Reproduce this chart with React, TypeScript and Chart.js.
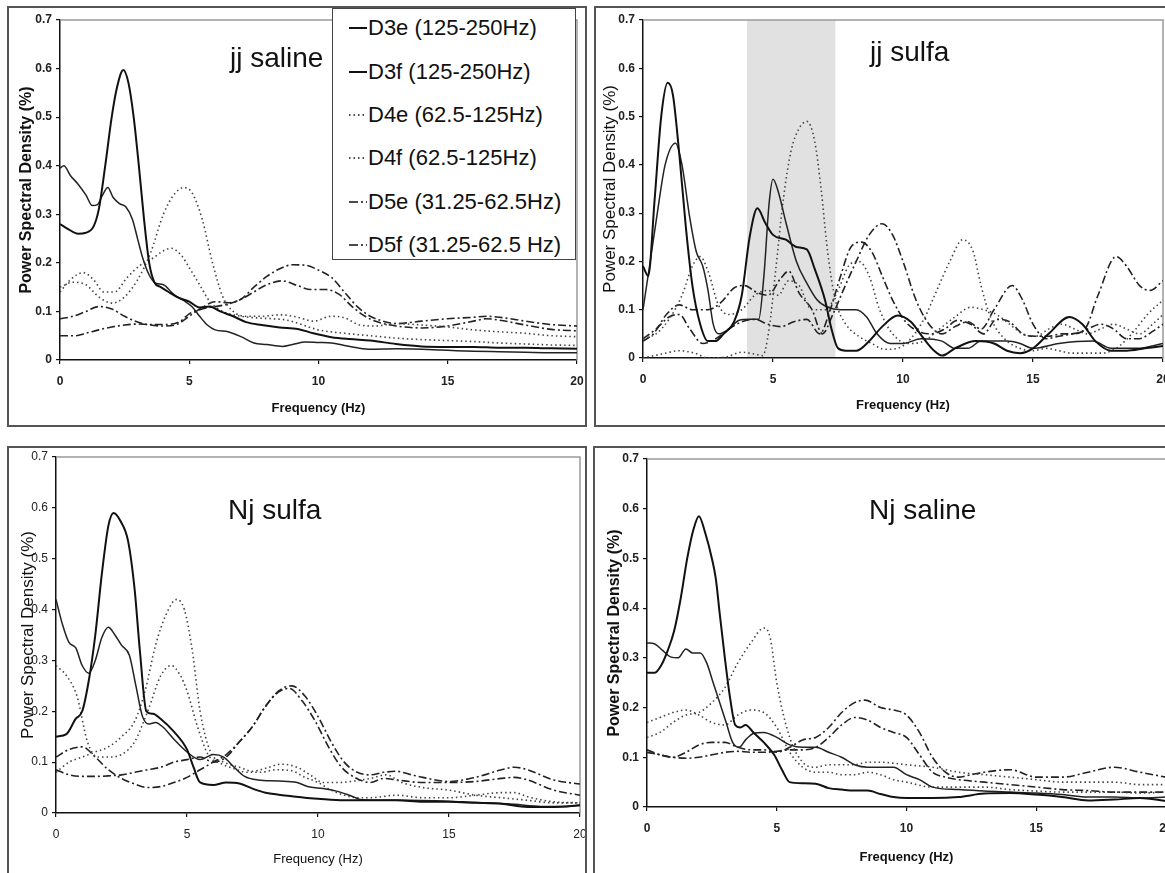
import React, { useEffect, useRef } from "react";
import { Chart, registerables } from "chart.js";
Chart.register(...registerables);

// ---------- labels ----------
const seriesLabels = [
  "D3e (125-250Hz)",
  "D3f (125-250Hz)",
  "D4e (62.5-125Hz)",
  "D4f (62.5-125Hz)",
  "D5e (31.25-62.5Hz)",
  "D5f (31.25-62.5 Hz)",
];
const panelTitles = ["jj saline", "jj sulfa", "Nj sulfa", "Nj saline"];
const xTickValues = [0, 5, 10, 15, 20];
const xTickLabels = ["0", "5", "10", "15", "20"];
const yTickValues = [0, 0.1, 0.2, 0.3, 0.4, 0.5, 0.6, 0.7];
const yTickLabels = ["0", "0.1", "0.2", "0.3", "0.4", "0.5", "0.6", "0.7"];
const xAxisTitle = "Frequency (Hz)";
const yAxisTitle = "Power Spectral Density (%)";
const jjSulfaShade = [4, 7.4];

type P = [number, number][];

// ---------- jj saline ----------
const jjSalineD3e: P = [[0,0.28],[0.3,0.27],[0.7,0.26],[1.0,0.262],[1.3,0.275],[1.5,0.31],[1.75,0.40],[2.0,0.50],[2.2,0.56],[2.45,0.597],[2.65,0.57],[2.85,0.50],[3.05,0.40],[3.25,0.29],[3.45,0.20],[3.65,0.16],[3.9,0.15],[4.2,0.14],[4.6,0.128],[5.0,0.12],[5.4,0.108],[5.8,0.11],[6.2,0.1],[6.7,0.09],[7.2,0.078],[7.8,0.072],[8.5,0.067],[9.2,0.064],[9.8,0.055],[10.5,0.047],[11.2,0.043],[12,0.04],[13,0.033],[14,0.028],[15,0.027],[16,0.027],[17,0.025],[18,0.025],[19,0.024],[20,0.023]];
const jjSalineD3f: P = [[0,0.395],[0.15,0.40],[0.4,0.38],[0.7,0.362],[1.0,0.34],[1.25,0.318],[1.45,0.32],[1.65,0.34],[1.85,0.355],[2.05,0.335],[2.3,0.322],[2.55,0.315],[2.8,0.29],[3.0,0.25],[3.2,0.21],[3.45,0.175],[3.7,0.158],[4.0,0.155],[4.4,0.135],[4.8,0.122],[5.1,0.11],[5.4,0.09],[5.7,0.072],[6.0,0.062],[6.5,0.058],[7.0,0.048],[7.5,0.035],[8.0,0.032],[8.6,0.028],[9.0,0.032],[9.5,0.037],[10.0,0.036],[10.5,0.035],[11,0.03],[11.5,0.025],[12,0.022],[13,0.023],[14,0.022],[15,0.02],[16,0.018],[17,0.017],[18,0.016],[19,0.015],[20,0.015]];
const jjSalineD4e: P = [[0,0.15],[0.5,0.16],[1.0,0.155],[1.5,0.13],[2.0,0.117],[2.5,0.13],[3.0,0.165],[3.5,0.22],[4.0,0.3],[4.4,0.34],[4.8,0.355],[5.1,0.345],[5.5,0.29],[5.9,0.2],[6.3,0.13],[6.7,0.1],[7.2,0.09],[7.8,0.09],[8.5,0.093],[9.2,0.088],[9.8,0.08],[10.5,0.09],[11.0,0.087],[11.6,0.072],[12.2,0.07],[13,0.075],[14,0.072],[15,0.068],[16,0.062],[17,0.058],[18,0.055],[19,0.05],[20,0.048]];
const jjSalineD4f: P = [[0,0.14],[0.4,0.165],[0.9,0.18],[1.3,0.165],[1.7,0.14],[2.1,0.14],[2.6,0.17],[3.1,0.195],[3.6,0.21],[4.0,0.225],[4.3,0.23],[4.7,0.215],[5.0,0.19],[5.4,0.155],[5.8,0.12],[6.3,0.1],[6.8,0.092],[7.5,0.087],[8.2,0.085],[8.8,0.082],[9.4,0.072],[10,0.062],[11,0.055],[12,0.05],[13,0.045],[14,0.042],[15,0.04],[16,0.038],[17,0.035],[18,0.033],[19,0.031],[20,0.03]];
const jjSalineD5e: P = [[0,0.085],[0.5,0.09],[1.0,0.1],[1.5,0.11],[2.0,0.105],[2.5,0.09],[3.0,0.078],[3.5,0.072],[4.0,0.07],[4.5,0.073],[5.0,0.09],[5.5,0.108],[6.0,0.12],[6.5,0.118],[7.0,0.125],[7.5,0.15],[8.0,0.172],[8.5,0.188],[9.0,0.196],[9.5,0.195],[10.0,0.185],[10.5,0.17],[11.0,0.14],[11.5,0.11],[12.0,0.09],[12.5,0.08],[13,0.075],[14,0.08],[15,0.085],[16,0.088],[16.5,0.09],[17,0.088],[18,0.08],[19,0.073],[20,0.07]];
const jjSalineD5f: P = [[0,0.05],[0.6,0.05],[1.0,0.055],[1.5,0.062],[2.0,0.068],[2.5,0.072],[3.0,0.074],[3.5,0.073],[4.0,0.073],[4.6,0.078],[5.0,0.095],[5.5,0.105],[6.0,0.11],[6.5,0.115],[7.0,0.125],[7.5,0.14],[8.0,0.155],[8.6,0.163],[9.2,0.153],[9.7,0.145],[10.3,0.145],[10.8,0.135],[11.3,0.11],[11.8,0.09],[12.3,0.078],[13,0.07],[14,0.066],[15,0.07],[16,0.08],[16.5,0.085],[17,0.082],[18,0.072],[19,0.063],[20,0.06]];

// ---------- jj sulfa ----------
const jjSulfaD3e: P = [[0,0.19],[0.2,0.17],[0.45,0.33],[0.7,0.5],[0.95,0.57],[1.15,0.545],[1.4,0.42],[1.65,0.27],[1.9,0.15],[2.2,0.07],[2.5,0.035],[2.8,0.035],[3.1,0.05],[3.5,0.075],[3.8,0.13],[4.1,0.25],[4.4,0.31],[4.7,0.28],[5.0,0.255],[5.5,0.245],[5.9,0.23],[6.3,0.225],[6.6,0.185],[7.0,0.12],[7.25,0.06],[7.5,0.02],[7.8,0.015],[8.2,0.015],[8.7,0.035],[9.2,0.065],[9.8,0.088],[10.3,0.075],[10.8,0.04],[11.2,0.015],[11.5,0.005],[12,0.02],[12.8,0.035],[13.5,0.03],[14,0.015],[14.5,0.01],[15,0.02],[15.6,0.05],[16.4,0.085],[16.9,0.07],[17.4,0.035],[18,0.015],[18.6,0.015],[19.3,0.02],[20,0.025]];
const jjSulfaD3f: P = [[0,0.1],[0.25,0.19],[0.55,0.3],[0.85,0.4],[1.25,0.445],[1.5,0.4],[1.8,0.29],[2.05,0.22],[2.3,0.19],[2.5,0.14],[2.7,0.07],[2.9,0.05],[3.3,0.06],[3.7,0.078],[4.1,0.08],[4.45,0.08],[4.65,0.17],[4.85,0.32],[5.0,0.37],[5.2,0.345],[5.5,0.28],[5.9,0.2],[6.3,0.155],[6.7,0.12],[7.1,0.105],[7.6,0.1],[8.2,0.1],[8.6,0.085],[9.0,0.05],[9.5,0.03],[10,0.03],[10.7,0.04],[11.5,0.035],[12,0.02],[12.5,0.02],[13,0.035],[14,0.035],[14.5,0.03],[15,0.02],[16,0.03],[17.3,0.035],[18,0.02],[19,0.02],[20,0.03]];
const jjSulfaD4e: P = [[0,0.0],[0.7,0.008],[1.4,0.015],[2.0,0.01],[2.5,0.0],[3.2,0.002],[3.8,0.012],[4.3,0.008],[4.6,0.005],[4.85,0.06],[5.1,0.18],[5.4,0.33],[5.7,0.43],[6.0,0.475],[6.3,0.49],[6.6,0.45],[6.85,0.35],[7.1,0.22],[7.4,0.12],[7.8,0.07],[8.3,0.045],[8.8,0.03],[9.3,0.018],[9.8,0.02],[10.3,0.04],[10.8,0.08],[11.3,0.14],[11.8,0.2],[12.3,0.245],[12.7,0.22],[13.0,0.15],[13.4,0.08],[13.9,0.04],[14.5,0.02],[15,0.015],[15.5,0.02],[16,0.015],[16.5,0.01],[17,0.01],[17.6,0.01],[18.2,0.02],[18.8,0.05],[19.4,0.09],[20,0.12]];
const jjSulfaD4f: P = [[0,0.04],[0.5,0.05],[1.0,0.08],[1.5,0.13],[1.9,0.19],[2.2,0.21],[2.5,0.18],[2.9,0.11],[3.3,0.09],[3.8,0.1],[4.3,0.13],[4.8,0.14],[5.2,0.13],[5.6,0.16],[6.0,0.15],[6.5,0.1],[7.0,0.1],[7.5,0.14],[7.9,0.19],[8.3,0.2],[8.7,0.17],[9.1,0.1],[9.6,0.05],[10.2,0.03],[10.8,0.035],[11.4,0.06],[12,0.085],[12.6,0.105],[13.1,0.1],[13.6,0.09],[14.1,0.07],[14.6,0.05],[15.1,0.045],[15.6,0.06],[16.1,0.07],[16.6,0.06],[17.1,0.05],[17.6,0.06],[18.1,0.07],[18.6,0.06],[19.1,0.05],[19.6,0.07],[20,0.09]];
const jjSulfaD5e: P = [[0,0.035],[0.4,0.05],[0.9,0.09],[1.4,0.11],[1.9,0.1],[2.5,0.1],[3.0,0.115],[3.5,0.145],[3.9,0.15],[4.4,0.135],[4.8,0.13],[5.3,0.165],[5.6,0.18],[6.0,0.135],[6.5,0.1],[6.9,0.05],[7.3,0.09],[7.7,0.14],[8.2,0.2],[8.7,0.255],[9.2,0.278],[9.6,0.255],[10.0,0.2],[10.5,0.12],[11.0,0.07],[11.5,0.05],[12,0.065],[12.5,0.075],[13,0.06],[13.5,0.1],[14.2,0.15],[14.6,0.12],[15,0.07],[15.5,0.04],[16,0.045],[16.5,0.05],[17,0.06],[17.5,0.13],[18.2,0.21],[18.6,0.19],[19.1,0.15],[19.5,0.14],[20,0.16]];
const jjSulfaD5f: P = [[0,0.04],[0.5,0.06],[1.0,0.085],[1.4,0.09],[1.8,0.06],[2.3,0.03],[2.8,0.04],[3.3,0.06],[3.8,0.075],[4.3,0.08],[4.8,0.07],[5.3,0.065],[5.8,0.075],[6.3,0.08],[6.8,0.05],[7.2,0.1],[7.6,0.17],[8.0,0.23],[8.4,0.24],[8.8,0.22],[9.2,0.17],[9.6,0.12],[10.1,0.075],[10.6,0.055],[11.1,0.05],[11.6,0.06],[12.1,0.078],[12.6,0.07],[13.1,0.05],[13.6,0.08],[14.1,0.075],[14.6,0.05],[15.1,0.045],[15.6,0.045],[16.1,0.05],[16.6,0.05],[17.1,0.06],[17.6,0.07],[18.1,0.06],[18.6,0.04],[19.1,0.04],[19.6,0.055],[20,0.07]];

// ---------- Nj sulfa ----------
const njSulfaD3e: P = [[0,0.15],[0.4,0.155],[0.75,0.185],[1.0,0.2],[1.25,0.26],[1.5,0.35],[1.75,0.47],[2.0,0.565],[2.2,0.59],[2.45,0.575],[2.75,0.535],[3.0,0.44],[3.2,0.32],[3.45,0.2],[3.7,0.195],[4.0,0.185],[4.5,0.16],[5.0,0.125],[5.25,0.09],[5.5,0.06],[6.0,0.055],[6.5,0.06],[7.0,0.058],[7.5,0.048],[8,0.04],[8.5,0.036],[9,0.033],[9.5,0.03],[10,0.028],[11,0.025],[12,0.025],[13,0.025],[14,0.022],[15,0.022],[16,0.02],[17,0.018],[18,0.012],[19,0.012],[20,0.015]];
const njSulfaD3f: P = [[0,0.42],[0.25,0.37],[0.5,0.335],[0.75,0.325],[1.0,0.29],[1.25,0.275],[1.5,0.3],[1.75,0.345],[2.0,0.365],[2.25,0.35],[2.5,0.33],[2.8,0.31],[3.05,0.25],[3.3,0.19],[3.55,0.175],[3.8,0.178],[4.1,0.168],[4.5,0.145],[5.0,0.12],[5.5,0.105],[6.0,0.115],[6.4,0.11],[6.8,0.09],[7.2,0.072],[7.7,0.065],[8.5,0.063],[9.2,0.06],[9.6,0.052],[10.2,0.048],[10.7,0.043],[11.2,0.035],[11.7,0.026],[12.5,0.025],[13.5,0.025],[14.5,0.024],[15.5,0.022],[16.5,0.02],[17.5,0.017],[18.5,0.013],[19.5,0.013],[20,0.015]];
const njSulfaD4e: P = [[0,0.08],[0.5,0.1],[1.0,0.11],[1.5,0.12],[2.0,0.13],[2.5,0.15],[3.0,0.18],[3.4,0.24],[3.8,0.33],[4.2,0.39],[4.6,0.42],[4.9,0.4],[5.2,0.32],[5.5,0.2],[5.9,0.12],[6.4,0.1],[7.0,0.09],[7.5,0.082],[8.0,0.088],[8.6,0.096],[9.2,0.09],[9.7,0.075],[10.2,0.06],[10.8,0.06],[11.4,0.063],[12,0.068],[12.6,0.075],[13.2,0.06],[14,0.05],[15,0.045],[16,0.035],[17,0.03],[18,0.025],[19,0.02],[20,0.02]];
const njSulfaD4f: P = [[0,0.29],[0.4,0.27],[0.8,0.23],[1.2,0.14],[1.6,0.11],[2.0,0.11],[2.5,0.115],[3.0,0.14],[3.5,0.2],[4.0,0.27],[4.4,0.29],[4.75,0.27],[5.0,0.24],[5.4,0.17],[5.8,0.115],[6.3,0.097],[6.8,0.087],[7.3,0.08],[7.8,0.08],[8.4,0.085],[9.0,0.083],[9.5,0.07],[10,0.06],[10.5,0.045],[11,0.035],[11.5,0.03],[12,0.03],[13,0.035],[14,0.03],[15,0.03],[16,0.035],[17,0.04],[17.5,0.04],[18,0.032],[19,0.022],[20,0.02]];
const njSulfaD5e: P = [[0,0.11],[0.5,0.125],[1.0,0.13],[1.5,0.11],[2.0,0.085],[2.5,0.068],[3.0,0.057],[3.5,0.05],[4.0,0.052],[4.5,0.06],[5.0,0.07],[5.5,0.085],[6.0,0.1],[6.5,0.115],[7.0,0.14],[7.5,0.17],[8.0,0.21],[8.5,0.24],[9.0,0.25],[9.5,0.23],[10.0,0.19],[10.5,0.14],[11.0,0.1],[11.5,0.08],[12,0.075],[12.5,0.08],[13,0.082],[13.5,0.076],[14,0.07],[15,0.062],[16,0.07],[17,0.085],[17.5,0.09],[18,0.085],[19,0.065],[20,0.057]];
const njSulfaD5f: P = [[0,0.085],[0.5,0.075],[1.0,0.072],[1.5,0.072],[2.0,0.073],[2.5,0.075],[3.0,0.08],[3.5,0.085],[4.0,0.09],[4.5,0.1],[5.0,0.105],[5.5,0.11],[6.0,0.1],[6.5,0.11],[7.0,0.14],[7.5,0.17],[8.0,0.21],[8.5,0.238],[8.9,0.245],[9.4,0.22],[9.9,0.18],[10.4,0.13],[10.9,0.09],[11.4,0.07],[12,0.06],[12.5,0.068],[13,0.065],[14,0.06],[15,0.06],[16,0.062],[17,0.068],[17.5,0.07],[18,0.065],[19,0.045],[20,0.035]];

// ---------- Nj saline ----------
const njSalineD3e: P = [[0,0.27],[0.3,0.27],[0.55,0.285],[0.8,0.315],[1.05,0.355],[1.3,0.42],[1.55,0.5],[1.8,0.56],[2.0,0.585],[2.25,0.55],[2.5,0.5],[2.65,0.46],[2.8,0.39],[3.0,0.3],[3.2,0.22],[3.4,0.165],[3.6,0.16],[3.8,0.165],[4.1,0.15],[4.5,0.13],[4.9,0.105],[5.2,0.075],[5.5,0.05],[6.0,0.048],[6.5,0.047],[7.0,0.038],[7.5,0.035],[8.0,0.033],[8.5,0.033],[9.0,0.026],[9.5,0.02],[10,0.018],[11,0.018],[12,0.02],[13,0.027],[14,0.028],[15,0.025],[16,0.02],[17,0.013],[18,0.015],[19,0.018],[20,0.012]];
const njSalineD3f: P = [[0,0.33],[0.3,0.328],[0.6,0.315],[0.9,0.302],[1.2,0.3],[1.5,0.318],[1.75,0.31],[2.05,0.31],[2.3,0.29],[2.55,0.25],[2.8,0.21],[3.05,0.17],[3.3,0.13],[3.55,0.12],[3.8,0.135],[4.1,0.148],[4.5,0.15],[5.0,0.14],[5.5,0.125],[6.0,0.12],[6.5,0.12],[7.0,0.11],[7.5,0.1],[8.0,0.085],[8.5,0.08],[9.0,0.08],[9.5,0.08],[10,0.065],[10.5,0.055],[11,0.04],[12,0.035],[13,0.032],[14,0.03],[15,0.028],[16,0.025],[17,0.02],[18,0.02],[19,0.018],[20,0.02]];
const njSalineD4e: P = [[0,0.14],[0.5,0.15],[1.0,0.17],[1.5,0.185],[2.0,0.19],[2.5,0.21],[3.0,0.24],[3.5,0.29],[4.0,0.33],[4.5,0.36],[4.75,0.34],[5.0,0.25],[5.5,0.14],[6.0,0.09],[6.5,0.08],[7.0,0.085],[7.5,0.085],[8.0,0.085],[8.5,0.09],[9.0,0.09],[9.5,0.088],[10,0.085],[11,0.08],[12,0.07],[13,0.065],[14,0.06],[15,0.055],[16,0.05],[17,0.05],[18,0.05],[19,0.045],[20,0.045]];
const njSalineD4f: P = [[0,0.17],[0.5,0.18],[1.0,0.19],[1.5,0.195],[2.0,0.185],[2.5,0.17],[3.0,0.165],[3.5,0.185],[4.0,0.195],[4.5,0.19],[5.0,0.16],[5.5,0.11],[6.0,0.08],[6.5,0.07],[7.0,0.07],[7.5,0.065],[8.0,0.065],[8.5,0.07],[9.0,0.065],[9.5,0.055],[10,0.05],[11,0.04],[12,0.04],[13,0.04],[14,0.035],[15,0.032],[16,0.03],[17,0.03],[18,0.03],[19,0.028],[20,0.03]];
const njSalineD5e: P = [[0,0.115],[0.5,0.105],[1.0,0.1],[1.5,0.11],[2.0,0.125],[2.5,0.13],[3.0,0.13],[3.5,0.12],[4.0,0.115],[4.5,0.115],[5.0,0.11],[5.5,0.12],[6.0,0.135],[6.5,0.14],[7.0,0.16],[7.5,0.19],[8.0,0.21],[8.4,0.215],[9.0,0.2],[9.5,0.195],[10,0.185],[10.5,0.15],[11,0.1],[11.5,0.07],[12,0.06],[12.5,0.065],[13,0.07],[14,0.075],[15,0.06],[16,0.06],[17,0.07],[18,0.08],[19,0.07],[20,0.06]];
const njSalineD5f: P = [[0,0.11],[0.5,0.105],[1.0,0.1],[1.5,0.098],[2.0,0.1],[2.5,0.105],[3.0,0.11],[3.5,0.112],[4.0,0.11],[4.5,0.11],[5.0,0.112],[5.5,0.115],[6.0,0.115],[6.5,0.12],[7.0,0.14],[7.5,0.165],[8.0,0.18],[8.5,0.175],[9.0,0.16],[9.5,0.15],[10,0.14],[10.5,0.105],[11,0.07],[11.5,0.06],[12,0.055],[13,0.05],[14,0.045],[15,0.04],[16,0.035],[17,0.033],[18,0.03],[19,0.03],[20,0.03]];

// ---------- styles ----------
const SANS = "'Liberation Sans', Arial, sans-serif";

type LineStyle = { width: number; dash: number[]; color: string };
const lineStyles: LineStyle[] = [
  { width: 2, dash: [], color: "#111" },
  { width: 1.5, dash: [], color: "#222" },
  { width: 1.6, dash: [1.5, 3], color: "#444" },
  { width: 1.6, dash: [1.5, 3], color: "#444" },
  { width: 1.6, dash: [8, 3, 2, 3], color: "#222" },
  { width: 1.6, dash: [8, 3, 2, 3], color: "#222" },
];

type Panel = {
  title: string;
  series: P[];
  canvas: { left: number; top: number; width: number; height: number };
  area: { left: number; top: number; right: number; bottom: number };
  yTitleCX: number;
  xTitleCY: number;
  yTitleBold: boolean;
  xTitleBold: boolean;
  tickBold: boolean;
  shade?: number[];
  titlePos: { left: number; baseline: number };
  frame: { left: number; top: number; width: number; height: number };
};

const panels: Panel[] = [
  {
    title: panelTitles[0],
    series: [jjSalineD3e, jjSalineD3f, jjSalineD4e, jjSalineD4f, jjSalineD5e, jjSalineD5f],
    frame: { left: 7, top: 6, width: 580, height: 421 },
    canvas: { left: 9, top: 8, width: 576, height: 417 },
    area: { left: 51, top: 12, right: 568, bottom: 352 },
    yTitleCX: 18, xTitleCY: 400,
    yTitleBold: true, xTitleBold: true, tickBold: true,
    titlePos: { left: 230, baseline: 68 },
  },
  {
    title: panelTitles[1],
    series: [jjSulfaD3e, jjSulfaD3f, jjSulfaD4e, jjSulfaD4f, jjSulfaD5e, jjSulfaD5f],
    frame: { left: 594, top: 6, width: 620, height: 421 },
    canvas: { left: 596, top: 8, width: 580, height: 417 },
    area: { left: 47, top: 12, right: 567, bottom: 350 },
    yTitleCX: 14, xTitleCY: 397,
    yTitleBold: false, xTitleBold: true, tickBold: true,
    shade: jjSulfaShade,
    titlePos: { left: 870, baseline: 62 },
  },
  {
    title: panelTitles[2],
    series: [njSulfaD3e, njSulfaD3f, njSulfaD4e, njSulfaD4f, njSulfaD5e, njSulfaD5f],
    frame: { left: 7, top: 446, width: 580, height: 460 },
    canvas: { left: 9, top: 448, width: 576, height: 425 },
    area: { left: 47, top: 9, right: 571, bottom: 365 },
    yTitleCX: 19, xTitleCY: 411,
    yTitleBold: false, xTitleBold: false, tickBold: false,
    titlePos: { left: 228, baseline: 520 },
  },
  {
    title: panelTitles[3],
    series: [njSalineD3e, njSalineD3f, njSalineD4e, njSalineD4f, njSalineD5e, njSalineD5f],
    frame: { left: 593, top: 446, width: 620, height: 460 },
    canvas: { left: 595, top: 448, width: 580, height: 425 },
    area: { left: 52, top: 11, right: 571, bottom: 359 },
    yTitleCX: 20, xTitleCY: 409,
    yTitleBold: true, xTitleBold: true, tickBold: true,
    titlePos: { left: 869, baseline: 520 },
  },
];

const plotFrame = {
  id: "plotFrame",
  beforeDraw(chart: any) {
    const shade = chart.options.plugins?.plotFrame?.shade;
    if (!shade) return;
    const { ctx, chartArea: a, scales } = chart;
    const x1 = scales.x.getPixelForValue(shade[0]);
    const x2 = scales.x.getPixelForValue(shade[1]);
    ctx.save();
    ctx.fillStyle = "#e1e1e1";
    ctx.fillRect(x1, a.top, x2 - x1, a.bottom - a.top - 1);
    ctx.restore();
  },
  beforeDatasetsDraw(chart: any) {
    const { ctx, chartArea: a } = chart;
    ctx.save();
    ctx.strokeStyle = "#9a9a9a";
    ctx.lineWidth = 1.5;
    ctx.beginPath();
    ctx.moveTo(a.left, a.top);
    ctx.lineTo(a.right, a.top);
    ctx.lineTo(a.right, a.bottom);
    ctx.stroke();
    ctx.restore();
  },
};

function PanelChart({ p }: { p: Panel }) {
  const ref = useRef<HTMLCanvasElement | null>(null);
  useEffect(() => {
    if (!ref.current) return;
    const W = p.canvas.width;
    const H = p.canvas.height;
    const tickSize = 12;
    const titleSizeY = p.yTitleBold ? 16 : 17;
    const titleSizeX = p.xTitleBold ? 13 : 13;
    const lhY = titleSizeY * 1.2;
    const lhX = titleSizeX * 1.2;
    const tickLen = 4;
    const chart = new Chart(ref.current, {
      type: "line",
      data: {
        datasets: p.series.map((s, i) => ({
          label: seriesLabels[i],
          data: s.map(([x, y]) => ({ x, y })),
          borderColor: lineStyles[i].color,
          borderWidth: lineStyles[i].width,
          borderDash: lineStyles[i].dash,
          pointRadius: 0,
          fill: false,
          tension: 0.3,
          cubicInterpolationMode: "monotone" as const,
        })),
      },
      options: {
        animation: false,
        responsive: false,
        maintainAspectRatio: false,
        devicePixelRatio: 1,
        events: [],
        layout: { padding: { left: 0, top: p.area.top, right: W - p.area.right, bottom: 0 } },
        plugins: {
          legend: { display: false },
          tooltip: { enabled: false },
          title: { display: false },
          plotFrame: { shade: p.shade },
        } as any,
        scales: {
          x: {
            type: "linear",
            min: 0,
            max: 20,
            afterBuildTicks: (s: any) => {
              s.ticks = xTickValues.map((v) => ({ value: v }));
            },
            afterFit: (s: any) => {
              s.height = H - p.area.bottom;
              s.paddingLeft = 0;
              s.paddingRight = 0;
            },
            ticks: {
              autoSkip: false,
              maxRotation: 0,
              padding: 22 - tickLen - (tickSize * 1.2) / 2,
              color: "#222",
              font: { family: SANS, size: tickSize, weight: p.tickBold ? "bold" : "normal" },
              callback: (_v: any, i: number) => xTickLabels[i],
            },
            grid: { drawOnChartArea: false, drawTicks: true, tickLength: tickLen, color: "#111", lineWidth: 1.2 },
            border: { display: true, color: "#111", width: 1.5 },
            title: {
              display: true,
              text: xAxisTitle,
              color: "#111",
              font: { family: SANS, size: titleSizeX, weight: p.xTitleBold ? "bold" : "normal" },
              padding: { top: 0, bottom: H - p.xTitleCY - lhX / 2 },
            },
          },
          y: {
            type: "linear",
            min: 0,
            max: 0.7,
            afterBuildTicks: (s: any) => {
              s.ticks = yTickValues.map((v) => ({ value: v }));
            },
            afterFit: (s: any) => {
              s.width = p.area.left;
              s.paddingTop = 0;
              s.paddingBottom = 0;
            },
            ticks: {
              autoSkip: false,
              padding: 4,
              color: "#222",
              font: { family: SANS, size: tickSize, weight: p.tickBold ? "bold" : "normal" },
              callback: (_v: any, i: number) => yTickLabels[i],
            },
            grid: { drawOnChartArea: false, drawTicks: true, tickLength: tickLen, color: "#111", lineWidth: 1.2 },
            border: { display: true, color: "#111", width: 1.5 },
            title: {
              display: true,
              text: yAxisTitle,
              color: "#111",
              font: { family: SANS, size: titleSizeY, weight: p.yTitleBold ? "bold" : "normal" },
              padding: { top: p.yTitleCX - lhY / 2, bottom: 0 },
            },
          },
        },
      },
      plugins: [plotFrame],
    } as any);
    return () => chart.destroy();
  }, [p]);
  return (
    <canvas
      ref={ref}
      width={p.canvas.width}
      height={p.canvas.height}
      style={{
        position: "absolute",
        left: p.canvas.left,
        top: p.canvas.top,
        width: p.canvas.width,
        height: p.canvas.height,
      }}
    />
  );
}

function LegendSample({ i }: { i: number }) {
  const st = lineStyles[i];
  return (
    <svg width={20} height={8} style={{ position: "absolute", left: 15, top: -4 }}>
      <line
        x1={1}
        y1={4}
        x2={19}
        y2={4}
        stroke="#111"
        strokeWidth={st.dash.length ? 1.6 : 2}
        strokeDasharray={st.dash.length ? (i >= 4 ? "9 3 2 3" : "1.5 3") : undefined}
      />
    </svg>
  );
}

const legendRowCenters = [20, 64, 107, 150, 194, 237];

export default function App() {
  return (
    <div
      style={{
        position: "absolute",
        left: 0,
        top: 0,
        width: 1165,
        height: 873,
        overflow: "hidden",
        background: "#fff",
        fontFamily: SANS,
      }}
    >
      {panels.map((p, k) => (
        <div
          key={"f" + k}
          style={{
            position: "absolute",
            left: p.frame.left,
            top: p.frame.top,
            width: p.frame.width,
            height: p.frame.height,
            border: "2px solid #555",
            boxSizing: "border-box",
          }}
        />
      ))}
      {panels.map((p, k) => (
        <PanelChart key={"c" + k} p={p} />
      ))}
      {panels.map((p, k) => (
        <div
          key={"t" + k}
          style={{
            position: "absolute",
            left: p.titlePos.left,
            top: p.titlePos.baseline - 23.7,
            fontSize: 28,
            lineHeight: "28px",
            color: "#111",
            whiteSpace: "nowrap",
          }}
        >
          {p.title}
        </div>
      ))}
      <div
        style={{
          position: "absolute",
          left: 332,
          top: 8,
          width: 244,
          height: 252,
          border: "1.5px solid #444",
          background: "#fff",
          boxSizing: "border-box",
        }}
      >
        {seriesLabels.map((lab, i) => (
          <div key={lab} style={{ position: "absolute", left: 0, top: legendRowCenters[i] - 1.5 }}>
            <LegendSample i={i} />
            <div
              style={{
                position: "absolute",
                left: 35,
                top: -12,
                fontSize: 22,
                lineHeight: "24px",
                color: "#111",
                whiteSpace: "nowrap",
              }}
            >
              {lab}
            </div>
          </div>
        ))}
      </div>
    </div>
  );
}
